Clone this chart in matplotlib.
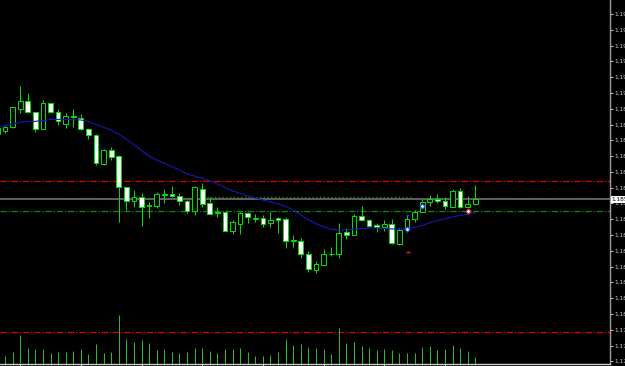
import matplotlib
matplotlib.use("Agg")
import matplotlib.pyplot as plt
import matplotlib.transforms as mtransforms
import numpy as np

# bar numbers, bar -1 is cut off at the left edge
bars = np.arange(-1, 63)

opens = [1.18838, 1.18853, 1.18868, 1.18950, 1.18984, 1.18934, 1.18860, 1.18974, 1.18935, 1.18884,
         1.18912, 1.18910, 1.18859, 1.18833, 1.18704, 1.18766, 1.18739, 1.18602, 1.18541, 1.18560,
         1.18519, 1.18520, 1.18568, 1.18572, 1.18564, 1.18542, 1.18498, 1.18594, 1.18531, 1.18488,
         1.18492, 1.18409, 1.18440, 1.18488, 1.18463, 1.18466, 1.18442, 1.18464, 1.18461, 1.18365,
         1.18363, 1.18306, 1.18236, 1.18258, 1.18306, 1.18307, 1.18403, 1.18391, 1.18473, 1.18457,
         1.18433, 1.18424, 1.18439, 1.18350, 1.18418, 1.18460, 1.18493, 1.18538, 1.18550, 1.18541,
         1.18516, 1.18585, 1.18516, 1.18526]
highs = [1.18871, 1.18873, 1.18959, 1.19051, 1.19018, 1.18937, 1.18989, 1.18977, 1.18947, 1.18930,
         1.18947, 1.18925, 1.18863, 1.18837, 1.18770, 1.18782, 1.18743, 1.18604, 1.18590, 1.18575,
         1.18535, 1.18579, 1.18595, 1.18607, 1.18575, 1.18545, 1.18607, 1.18619, 1.18557, 1.18513,
         1.18493, 1.18457, 1.18491, 1.18491, 1.18482, 1.18479, 1.18493, 1.18471, 1.18471, 1.18390,
         1.18375, 1.18319, 1.18276, 1.18328, 1.18338, 1.18445, 1.18422, 1.18483, 1.18519, 1.18460,
         1.18442, 1.18457, 1.18460, 1.18420, 1.18479, 1.18501, 1.18548, 1.18567, 1.18572, 1.18560,
         1.18593, 1.18597, 1.18563, 1.18612]
lows = [1.18829, 1.18841, 1.18865, 1.18930, 1.18930, 1.18848, 1.18859, 1.18930, 1.18878, 1.18866,
        1.18868, 1.18856, 1.18816, 1.18700, 1.18700, 1.18723, 1.18449, 1.18501, 1.18516, 1.18431,
        1.18464, 1.18508, 1.18533, 1.18557, 1.18523, 1.18489, 1.18479, 1.18516, 1.18483, 1.18471,
        1.18408, 1.18395, 1.18395, 1.18442, 1.18449, 1.18424, 1.18424, 1.18400, 1.18331, 1.18338,
        1.18289, 1.18227, 1.18220, 1.18254, 1.18297, 1.18289, 1.18372, 1.18389, 1.18454, 1.18427,
        1.18402, 1.18408, 1.18350, 1.18346, 1.18405, 1.18449, 1.18491, 1.18520, 1.18531, 1.18504,
        1.18513, 1.18511, 1.18513, 1.18523]
closes = [1.18864, 1.18869, 1.18956, 1.18986, 1.18934, 1.18861, 1.18977, 1.18934, 1.18897, 1.18916,
          1.18916, 1.18859, 1.18833, 1.18708, 1.18767, 1.18737, 1.18604, 1.18542, 1.18559, 1.18516,
          1.18522, 1.18571, 1.18572, 1.18563, 1.18542, 1.18498, 1.18602, 1.18528, 1.18485, 1.18491,
          1.18409, 1.18446, 1.18488, 1.18470, 1.18466, 1.18440, 1.18455, 1.18455, 1.18365, 1.18368,
          1.18306, 1.18239, 1.18260, 1.18304, 1.18308, 1.18398, 1.18391, 1.18473, 1.18457, 1.18431,
          1.18424, 1.18439, 1.18353, 1.18412, 1.18460, 1.18493, 1.18535, 1.18548, 1.18542, 1.18519,
          1.18585, 1.18513, 1.18528, 1.18548]
ma = [1.18870, 1.18876, 1.18882, 1.18890, 1.18894, 1.18894, 1.18898, 1.18902, 1.18903, 1.18903,
      1.18902, 1.18900, 1.18894, 1.18880, 1.18868, 1.18855, 1.18837, 1.18815, 1.18790, 1.18764,
      1.18740, 1.18722, 1.18708, 1.18693, 1.18679, 1.18661, 1.18651, 1.18642, 1.18630, 1.18616,
      1.18601, 1.18586, 1.18575, 1.18563, 1.18554, 1.18545, 1.18537, 1.18528, 1.18516, 1.18501,
      1.18479, 1.18458, 1.18440, 1.18426, 1.18416, 1.18412, 1.18412, 1.18416, 1.18419, 1.18421,
      1.18421, 1.18419, 1.18417, 1.18415, 1.18418, 1.18424, 1.18433, 1.18444, 1.18454, 1.18462,
      1.18470, 1.18477, 1.18483, 1.18489]
volumes = [220, 160, 240, 586, 314, 294, 294, 226, 246, 246, 260, 294, 200, 400, 226, 240, 980, 500,
           440, 480, 426, 280, 300, 240, 226, 240, 326, 314, 266, 226, 300, 300, 320, 246, 160, 160,
           186, 240, 494, 380, 400, 340, 320, 294, 206, 720, 420, 440, 360, 320, 280, 300, 280, 226,
           226, 226, 340, 354, 280, 300, 386, 314, 260, 134]

# horizontal levels
red_level_hi = 1.18630
green_level = 1.18495
red_level_lo = 1.17959
dotted_level = 1.18557
dotted_from, dotted_to = 26.6, 53.8

# trade arrows
buy_bars = [53, 55]
buy_prices = [1.18418, 1.18520]
close_bars = [61]
close_prices = [1.18495]
tp_price = 1.18477
sl_price = 1.18313

price_ticks = np.round(1.1783 + 0.0007 * np.arange(23), 4)

green = '#00dd00'
lw1 = 0.72  # one pixel
dashdot = (0, (5, 1.5, 1, 1.5))

fig = plt.figure(figsize=(6.25, 3.66), dpi=100, facecolor='black')
ax = fig.add_axes([0, 2 / 366, 610 / 625, 364 / 366], facecolor='black')

# tick volumes on their own scale at the bottom
vax = ax.twinx()
vax.vlines(bars, 0, volumes, color='#22c022', lw=lw1)
vax.set_ylim(0, 7280)
vax.set_yticks([])
for s in vax.spines.values():
    s.set_visible(False)

o = np.array(opens)
c = np.array(closes)
up = c >= o

ax.axhline(red_level_hi, color='#e00000', lw=0.9, ls=dashdot, snap=True, zorder=1)
ax.axhline(green_level, color='#009000', lw=0.9, ls=dashdot, snap=True, zorder=1)
ax.axhline(red_level_lo, color='#e00000', lw=0.9, ls=dashdot, snap=True, zorder=1)
ax.axhline(closes[-1], color='#7a7a7a', lw=1.1, snap=True, zorder=1)
ax.hlines(dotted_level, dotted_from, dotted_to, colors='#00a000', lw=0.9,
          linestyles=(0, (1, 2)), snap=True, zorder=1)

ax.vlines(bars, lows, highs, color=green, lw=lw1, zorder=2)
ax.bar(bars, np.abs(c - o), bottom=np.minimum(o, c), width=0.62,
       color=np.where(up, 'black', 'white'), edgecolor=green, linewidth=lw1, zorder=3)

ax.plot(bars, ma, color='#1818b8', lw=0.8, zorder=4)

ax.hlines(tp_price, 52.8, 53.3, colors='#2030ff', lw=1, zorder=5)
ax.hlines(sl_price, 52.8, 53.4, colors='#ff2020', lw=1, zorder=5)
ax.scatter(buy_bars, buy_prices, marker='D', s=7, facecolor='white', edgecolor='#2040ff', lw=0.8, zorder=6)
ax.scatter(close_bars, close_prices, marker='D', s=7, facecolor='white', edgecolor='#ff2020', lw=0.8, zorder=6)

ax.set_xlim(-0.659, 79.76)
ax.set_ylim(1.178181, 1.194321)

ax.set_yticks(price_ticks)
ax.set_yticklabels([f"{t:.4f}" for t in price_ticks])
ax.yaxis.tick_right()
ax.tick_params(axis='y', colors='#c8c8c8', length=2, width=0.7, pad=1, labelsize=4.2)
ax.set_xticks(np.arange(2, 63, 8))
ax.set_xticklabels([])
ax.tick_params(axis='x', colors='white', length=2, width=0.7)

for side in ['top', 'left']:
    ax.spines[side].set_visible(False)
ax.spines['right'].set_color('#a0a0a0')
ax.spines['bottom'].set_color('#d0d0d0')
ax.spines['right'].set_linewidth(1)
ax.spines['bottom'].set_linewidth(1)

trans = mtransforms.blended_transform_factory(ax.transAxes, ax.transData)
ax.text(1.003, closes[-1], f"{closes[-1]:.5f}", transform=trans, va='center', ha='left',
        fontsize=4.2, color='black', clip_on=False, zorder=10,
        bbox=dict(boxstyle='square,pad=0.15', fc='white', ec='none'))

fig.savefig('out.png', dpi=100, facecolor='black')
